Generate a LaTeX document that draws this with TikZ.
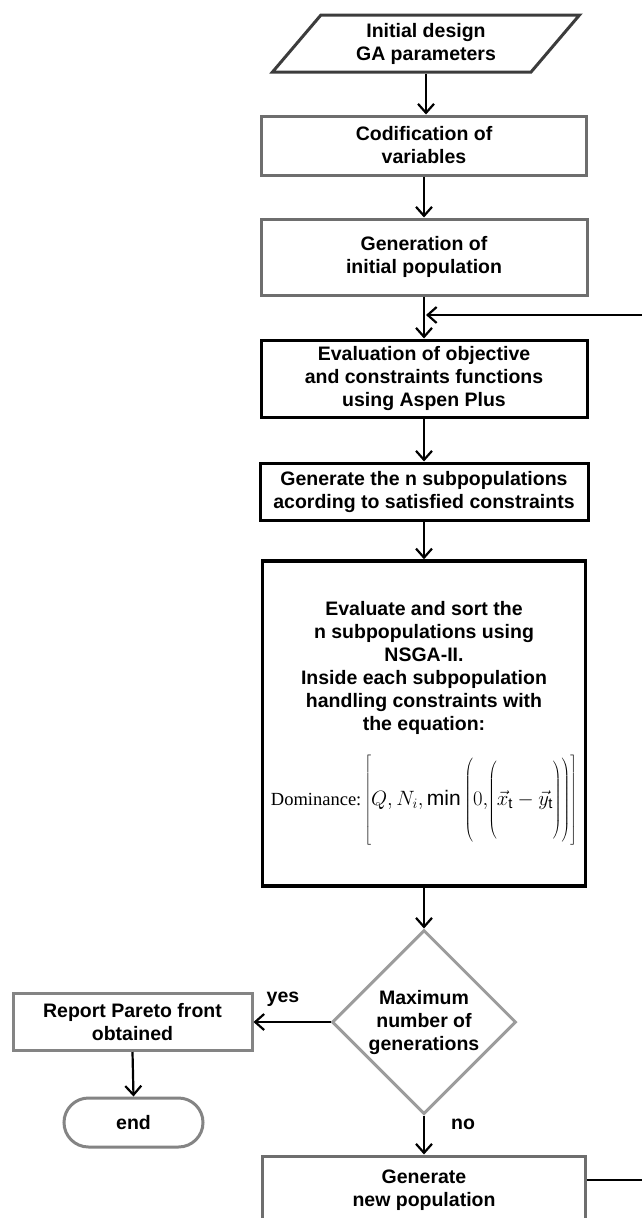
\documentclass[tikz,border=0pt]{standalone}
\usepackage{fontspec}
\setmainfont{Liberation Sans}
\newfontfamily\domfont{Liberation Serif}
\usetikzlibrary{shapes.geometric,shapes.misc,arrows.meta}
\definecolor{darkedge}{HTML}{3C3C3C}
\definecolor{midedge}{HTML}{6E6E6E}
\definecolor{lightedge}{HTML}{9C9C9C}

\begin{document}
\begin{tikzpicture}[x=1pt,y=1pt,yscale=-1,xscale=1,
  flowbox/.style={draw=midedge,line width=3pt,fill=white,align=center,inner sep=2pt,
    font=\fontsize{19.5}{23}\selectfont\bfseries},
  strongbox/.style={flowbox,draw=black},
  lbl/.style={inner sep=0pt,font=\fontsize{19.5}{23}\selectfont\bfseries},
  arr/.style={line width=2.2pt,-{Straight Barb[length=9pt,width=16pt]}}]
%set diagram area: 641 x 1218
\fill[white] (0,0) rectangle (641,1218);
\useasboundingbox (0,0) rectangle (641,1218);

%Shape: Parallelogram
\node[flowbox,draw=darkedge,trapezium,trapezium left angle=43,trapezium right angle=137,
  trapezium stretches body,minimum width=307pt,minimum height=57pt] (start) at (426,43.5) {Initial design\\GA parameters};
%Shape: Rectangle
\node[flowbox,minimum width=325pt,minimum height=59pt] (codif) at (424,145.5) {Codification of\\variables};
%Shape: Rectangle
\node[flowbox,minimum width=326pt,minimum height=76pt] (geninit) at (424,257) {Generation of\\initial population};
%Shape: Rectangle
\node[strongbox,minimum width=326pt,minimum height=77pt] (eval) at (424,378.5) {Evaluation of objective\\and constraints functions\\using Aspen Plus};
%Shape: Rectangle
\node[strongbox,minimum width=328pt,minimum height=57pt] (gensub) at (424,491.5) {Generate the n subpopulations\\acording to satisfied constraints};
%Shape: Rectangle
\node[strongbox,line width=3.5pt,minimum width=323pt,minimum height=325pt] (nsga) at (424,723.5) {Evaluate and sort the\\n subpopulations using\\NSGA-II.\\Inside each subpopulation\\handling constraints with\\the equation:\\[20pt]
  {\domfont\mdseries\fontsize{18.5}{20}\selectfont Dominance:\,\fontsize{21}{22}\selectfont$\left[\rule[-40pt]{0pt}{84pt}Q,N_{i},\mathrm{min}\left(\rule[-38pt]{0pt}{80pt}0,\!\left(\rule[-36pt]{0pt}{76pt}\vec{x}_{\mathrm{t}}-\vec{y}_{\mathrm{t}}\right)\right)\right]$}};
%Shape: Diamond
\node[flowbox,draw=lightedge,diamond,inner sep=0pt,minimum width=184pt,minimum height=184pt] (maxgen) at (424,1022) {Maximum\\number of\\generations};
%Shape: Rectangle
\node[flowbox,draw=midedge!85,minimum width=239pt,minimum height=57pt] (report) at (132.5,1022) {Report Pareto front\\obtained};
%Shape: Rounded Rectangle
\node[flowbox,draw=midedge!85,rounded rectangle,minimum width=143pt,minimum height=49pt] (stop) at (133.5,1122.5) {end};
%Shape: Rectangle
\node[flowbox,minimum width=323pt,minimum height=68pt] (newpop) at (424,1190) {Generate\\new population};

% Text Node
\node[lbl] (yes) at (283,999) {yes};
% Text Node
\node[lbl] (no) at (463,1124) {no};

%Straight Lines
\draw[arr] (start.south) -- (start.south |- codif.north);
\draw[arr] (codif.south) -- (geninit.north);
\draw[arr] (geninit.south) -- (eval.north);
\draw[arr] (eval.south) -- (gensub.north);
\draw[arr] (gensub.south) -- (nsga.north);
\draw[arr] (nsga.south) -- (maxgen.north);
\draw[arr] (maxgen.west) -- (report.east);
\draw[arr] (report.south) -- (stop.north);
\draw[arr] (maxgen.south) -- (newpop.north);
%Feedback line
\coordinate (loopr) at (665,1180);
\coordinate (join) at (426,315);
\draw[arr] (newpop.east |- loopr) -- (loopr) |- (join);

\end{tikzpicture}
\end{document}
